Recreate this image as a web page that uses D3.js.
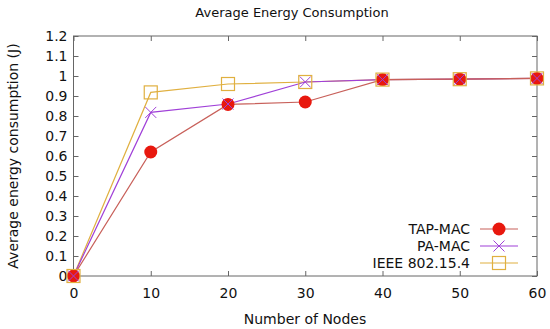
<!DOCTYPE html>
<html><head><meta charset="utf-8">
<script src="https://cdn.jsdelivr.net/npm/d3@7"></script>
<style>body{margin:0;background:#fff}svg{display:block}text{font-family:Tahoma,"DejaVu Sans",sans-serif}</style>
</head><body><svg id="c" width="550" height="329"></svg>
<script>
const nodes = [0, 10, 20, 30, 40, 50, 60];
const tapMac = [0, 0.62, 0.858, 0.87, 0.982, 0.984, 0.988];
const paMac = [0, 0.818, 0.86, 0.97, 0.982, 0.984, 0.988];
const ieee = [0, 0.918, 0.96, 0.97, 0.982, 0.984, 0.988];
const xTicks = [0, 10, 20, 30, 40, 50, 60];
const yTicks = [0, 0.1, 0.2, 0.3, 0.4, 0.5, 0.6, 0.7, 0.8, 0.9, 1, 1.1, 1.2];
const seriesNames = ["TAP-MAC", "PA-MAC", "IEEE 802.15.4"];

const svg = d3.select("#c");
const L = 73.5, R = 537, T = 36, B = 276;
const x = d3.scaleLinear().domain([0, 60]).range([L, R]);
const y = d3.scaleLinear().domain([0, 1.2]).range([B, T]);
const axisColor = "#666";
const fs = "13px", tfs = "14px";

const gx = svg.append("g").attr("transform", `translate(0,${B})`)
  .call(d3.axisBottom(x).tickValues(xTicks).tickFormat(d3.format("d")).tickSizeInner(-5).tickSizeOuter(0).tickPadding(12));
const gx2 = svg.append("g").attr("transform", `translate(0,${T})`)
  .call(d3.axisTop(x).tickValues(xTicks).tickFormat("").tickSizeInner(-5).tickSizeOuter(0));
const gy = svg.append("g").attr("transform", `translate(${L},0)`)
  .call(d3.axisLeft(y).tickValues(yTicks).tickFormat(d => d3.format("")(+d.toFixed(1))).tickSizeInner(-5).tickSizeOuter(0).tickPadding(6));
const gy2 = svg.append("g").attr("transform", `translate(${R},0)`)
  .call(d3.axisRight(y).tickValues(yTicks).tickFormat("").tickSizeInner(-5).tickSizeOuter(0));
[gx, gx2, gy, gy2].forEach(g => {
  g.select(".domain").remove();
  g.selectAll("line").attr("stroke", axisColor);
  g.selectAll("text").attr("fill", "#111").style("font-size", tfs).style("font-family", "Tahoma,'DejaVu Sans',sans-serif");
});
svg.append("rect").attr("x", L).attr("y", T).attr("width", R - L).attr("height", B - T)
  .attr("fill", "none").attr("stroke", axisColor).attr("stroke-width", 1);

svg.append("text").attr("x", 292).attr("y", 17).attr("text-anchor", "middle")
  .style("font-size", fs).attr("fill", "#111").text("Average Energy Consumption");
svg.append("text").attr("x", 305).attr("y", 324).attr("text-anchor", "middle")
  .style("font-size", tfs).attr("fill", "#111").text("Number of Nodes");
svg.append("text").attr("transform", `translate(18,${156}) rotate(-90)`).attr("text-anchor", "middle")
  .style("font-size", tfs).attr("fill", "#111").text("Average energy consumption (J)");

const line = d3.line().x((d, i) => x(nodes[i])).y(d => y(d));
const cfg = [
  {vals: ieee, line: "#e0b040", type: "square"},
  {vals: paMac, line: "#a040d8", type: "cross"},
  {vals: tapMac, line: "#c8605a", type: "circle"}
];
function drawMarker(g, type, cx, cy) {
  if (type === "circle") {
    g.append("circle").attr("cx", cx).attr("cy", cy).attr("r", 6.5).attr("fill", "#e8180e");
  } else if (type === "cross") {
    const s = 5.5;
    g.append("path").attr("d", `M${cx-s},${cy-s}L${cx+s},${cy+s}M${cx-s},${cy+s}L${cx+s},${cy-s}`)
      .attr("stroke", "#a040d8").attr("stroke-width", 1).attr("fill", "none");
  } else {
    const s = 6.5;
    g.append("rect").attr("x", cx - s).attr("y", cy - s).attr("width", 2 * s).attr("height", 2 * s)
      .attr("fill", "none").attr("stroke", "#e0b040").attr("stroke-width", 1.2);
  }
}
cfg.forEach(c => {
  svg.append("path").datum(c.vals).attr("d", line).attr("fill", "none").attr("stroke", c.line).attr("stroke-width", 1.2);
});
[cfg[2], cfg[1], cfg[0]].forEach(c => {
  const g = svg.append("g");
  c.vals.forEach((v, i) => drawMarker(g, c.type, x(nodes[i]), y(v)));
});

const legY = [229, 246, 263];
const legCfg = [cfg[2], cfg[1], cfg[0]];
seriesNames.forEach((n, i) => {
  svg.append("text").attr("x", 470).attr("y", legY[i]).attr("dy", "0.35em").attr("text-anchor", "end")
    .style("font-size", tfs).attr("fill", "#111").text(n);
  svg.append("line").attr("x1", 480).attr("x2", 518).attr("y1", legY[i]).attr("y2", legY[i])
    .attr("stroke", legCfg[i].line).attr("stroke-width", 1.2);
  drawMarker(svg.append("g"), legCfg[i].type, 499, legY[i]);
});
</script></body></html>
